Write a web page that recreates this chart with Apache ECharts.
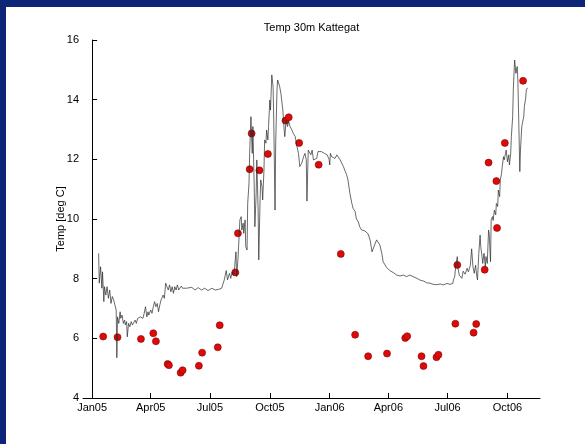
<!DOCTYPE html>
<html>
<head>
<meta charset="utf-8">
<script src="https://cdn.jsdelivr.net/npm/echarts@6/dist/echarts.min.js"></script>
<style>
  html, body { margin: 0; padding: 0; width: 585px; height: 444px; overflow: hidden; background: #0c2577; }
  #chart { position: absolute; left: 6px; top: 7px; width: 579px; height: 437px; background: #ffffff; }
</style>
</head>
<body>
<div id="chart"></div>
<script>
// Days are counted from 1 Jan 2005 (day 0).
const seriesStart = '2005-01-01';

// Daily record at 30 m depth, Kattegat (deg C)
const lineDay = [
  10, 11, 13, 15, 16, 18, 19, 21, 23, 25, 27, 29, 31, 33, 35, 37, 38, 39, 41, 43,
  44, 46, 48, 50, 51, 53, 54, 56, 58, 60, 62, 64, 66, 68, 70, 72, 74, 76, 78, 80,
  82, 84, 86, 87, 90, 92, 94, 96, 98, 100, 102, 104, 106, 109, 111, 113, 115, 117, 119, 121,
  123, 125, 127, 129, 131, 133, 135, 137, 139, 142, 145, 148, 153, 158, 163, 168, 173, 178, 184, 189,
  194, 199, 203, 206, 208, 211, 213, 215, 217, 219, 221, 222, 224, 225, 227, 229, 230, 232, 233, 235,
  236, 238, 239, 241, 242, 244, 245, 246, 247, 249, 250, 252, 253, 255, 256, 258, 259, 261, 262, 264,
  265, 267, 268, 270, 271, 273, 274, 276, 278, 279, 281, 282, 284, 285, 287, 288, 290, 293, 295, 296,
  298, 300, 302, 304, 307, 309, 312, 314, 317, 319, 322, 325, 327, 329, 330, 332, 334, 336, 338, 340,
  343, 345, 347, 349, 352, 354, 357, 359, 361, 364, 365, 366, 368, 371, 373, 376, 378, 381, 383, 386,
  388, 391, 393, 396, 399, 401, 404, 406, 409, 411, 414, 417, 419, 422, 424, 427, 430, 432, 434, 437,
  440, 442, 445, 447, 450, 452, 455, 458, 460, 463, 465, 468, 470, 473, 476, 478, 481, 483, 486, 488,
  491, 493, 495, 499, 504, 509, 514, 519, 524, 529, 535, 540, 545, 547, 550, 552, 554, 555, 557, 558,
  559, 561, 562, 564, 565, 568, 570, 573, 576, 578, 581, 583, 585, 587, 589, 591, 592, 594, 596, 597,
  599, 600, 602, 604, 605, 607, 609, 610, 612, 613, 615, 616, 618, 620, 621, 623, 624, 626, 627, 629,
  630, 632, 633, 635, 636, 638, 640, 641, 643, 644, 646, 647, 649, 650, 651, 653, 654, 656, 657, 658,
  660, 661, 663, 664, 666, 667, 669
];
const lineTemp = [
  8.85, 7.85, 8.40, 7.68, 8.23, 7.23, 7.73, 7.45, 7.73, 7.34, 7.62, 7.17, 7.40, 7.29, 7.12, 6.95, 5.35, 6.72, 6.50, 6.89,
  6.67, 6.78, 6.50, 6.61, 6.45, 6.56, 6.05, 6.50, 6.39, 6.56, 6.45, 6.50, 6.61, 6.50, 6.67, 6.61, 6.72, 6.78, 6.67, 6.84,
  7.06, 6.72, 6.89, 6.78, 6.95, 6.84, 7.06, 7.23, 7.06, 7.17, 6.89, 7.12, 7.29, 7.45, 7.34, 7.85, 7.73, 7.62, 7.79, 7.56,
  7.73, 7.51, 7.73, 7.62, 7.79, 7.62, 7.68, 7.75, 7.68, 7.73, 7.68, 7.64, 7.71, 7.62, 7.70, 7.62, 7.68, 7.60, 7.68, 7.62,
  7.64, 7.68, 7.96, 8.27, 7.96, 8.18, 8.01, 8.23, 8.12, 8.40, 8.90, 8.07, 8.63, 9.07, 9.97, 10.08, 9.63, 9.86, 9.52, 9.97,
  9.07, 8.96, 10.52, 11.20, 12.20, 13.43, 12.76, 12.20, 13.10, 11.08, 9.74, 10.86, 11.98, 10.30, 8.63, 10.64, 11.31, 11.08, 10.64, 11.64,
  12.65, 12.54, 12.98, 12.65, 13.10, 13.99, 13.65, 14.83, 14.43, 13.32, 10.30, 12.54, 14.33, 14.66, 14.72, 14.45, 14.21, 13.65, 12.98, 12.76,
  13.32, 13.10, 13.27, 13.10, 12.98, 12.87, 12.76, 12.50, 12.20, 11.76, 11.87, 12.10, 12.20, 11.98, 10.60, 12.31, 12.37, 12.15, 12.31, 11.98,
  11.98, 12.03, 12.26, 12.31, 12.26, 12.31, 12.20, 12.26, 12.15, 12.00, 11.81, 12.20, 12.09, 12.15, 12.03, 12.15, 12.09, 11.98, 11.92, 11.76,
  11.64, 11.48, 11.31, 10.86, 10.52, 10.35, 10.25, 10.00, 9.90, 9.74, 9.63, 9.65, 9.60, 9.55, 9.50, 9.30, 8.90, 8.85, 9.13, 9.30,
  9.30, 9.13, 8.85, 8.57, 8.46, 8.38, 8.33, 8.26, 8.25, 8.20, 8.18, 8.12, 8.14, 8.09, 8.12, 8.12, 8.14, 8.07, 8.10, 8.12,
  8.10, 8.07, 8.10, 8.01, 7.95, 7.92, 7.86, 7.85, 7.81, 7.80, 7.82, 7.79, 7.84, 7.82, 7.81, 7.76, 7.84, 7.96, 8.07, 8.29,
  8.51, 8.74, 8.35, 8.12, 8.07, 8.01, 8.25, 8.15, 8.35, 8.23, 8.45, 9.00, 8.40, 8.18, 8.45, 8.07, 7.96, 8.85, 9.46, 9.07,
  8.74, 8.51, 8.85, 8.40, 8.74, 8.51, 9.63, 9.50, 8.57, 9.97, 10.08, 9.95, 10.30, 10.14, 10.52, 10.42, 10.97, 10.75, 11.31, 11.53,
  11.76, 12.09, 11.98, 12.20, 12.31, 11.92, 12.15, 11.81, 12.20, 12.76, 13.43, 14.33, 15.33, 15.39, 14.88, 15.11, 14.66, 12.65, 11.59, 12.31,
  13.10, 13.21, 13.43, 13.77, 14.05, 14.33, 14.40
];

// Individual samples (deg C)
const sampleDay = [
  17, 39, 75, 94, 98, 116, 118, 136, 139, 164, 169, 193, 196, 220, 224, 242, 245, 257, 270, 297,
  302, 318, 348, 382, 404, 424, 453, 481, 484, 506, 509, 529, 532, 558, 561, 586, 590, 603, 609, 621,
  622, 634, 662
];
const sampleTemp = [
  6.06, 6.04, 5.98, 6.17, 5.90, 5.14, 5.10, 4.85, 4.93, 5.08, 5.52, 5.70, 6.44, 8.21, 9.52, 11.67, 12.87, 11.63, 12.18, 13.30,
  13.41, 12.55, 11.82, 8.83, 6.12, 5.40, 5.49, 6.01, 6.07, 5.40, 5.07, 5.37, 5.45, 6.49, 8.46, 6.19, 6.48, 8.30, 11.89, 11.27,
  9.70, 12.55, 14.63
];

// Quarter starts and their labels
const tickDay = [0, 90, 181, 273, 365, 455, 546, 638];
const tickLabel = ['Jan05', 'Apr05', 'Jul05', 'Oct05', 'Jan06', 'Apr06', 'Jul06', 'Oct06'];

const titleText = 'Temp 30m Kattegat';
const yName = 'Temp [deg C]';

const FONT = '"Liberation Sans", Arial, Helvetica, sans-serif';

const lineData = lineDay.map((d, i) => [d, lineTemp[i]]);
const sampleData = sampleDay.map((d, i) => [d, sampleTemp[i]]);

const chart = echarts.init(document.getElementById('chart'), null, { renderer: 'canvas' });

const axisCommon = {
  axisLine: { show: true, lineStyle: { color: '#000', width: 1 } },
  axisTick: { show: true, inside: true, length: 5, lineStyle: { color: '#000', width: 1 } },
  splitLine: { show: false },
};

chart.setOption({
  animation: false,
  backgroundColor: '#ffffff',
  textStyle: { fontFamily: FONT },
  graphic: [{
    type: 'text',
    x: 305.5,
    y: 21,
    style: {
      text: titleText,
      font: '11px ' + FONT,
      fill: '#000',
      align: 'center',
      verticalAlign: 'middle',
      textAlign: 'center',
      textVerticalAlign: 'middle'
    }
  }],
  grid: { left: 77, top: 33, right: 45, bottom: 46, containLabel: false },
  xAxis: Object.assign({}, axisCommon, {
    type: 'value',
    min: -14,
    max: 688,
    axisTick: Object.assign({}, axisCommon.axisTick, { customValues: tickDay }),
    axisLabel: {
      customValues: tickDay,
      formatter: v => { const k = tickDay.indexOf(v); return k >= 0 ? tickLabel[k] : ''; },
      color: '#000', fontSize: 11, fontFamily: FONT, margin: 4
    }
  }),
  yAxis: Object.assign({}, axisCommon, {
    type: 'value',
    min: 4,
    max: 16,
    interval: 2,
    name: yName,
    nameLocation: 'middle',
    nameGap: 17,
    nameMoveOverlap: false,
    nameTextStyle: { color: '#000', fontSize: 11, fontFamily: FONT },
    axisLabel: { color: '#000', fontSize: 11, fontFamily: FONT, margin: 4 }
  }),
  series: [
    {
      type: 'scatter',
      data: sampleData,
      symbol: 'circle',
      symbolSize: 7,
      itemStyle: { color: '#dd0a0a', borderColor: '#8a0000', borderWidth: 0.6, opacity: 1 },
      z: 2
    },
    {
      type: 'line',
      data: lineData,
      showSymbol: false,
      symbol: 'none',
      lineStyle: { color: '#2a2a2a', width: 0.7 },
      z: 3
    }
  ]
});
</script>
</body>
</html>
